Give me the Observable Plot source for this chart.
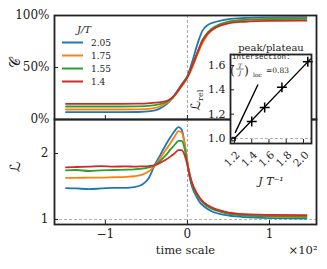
<!DOCTYPE html>
<html><head><meta charset="utf-8">
<script src="https://cdn.jsdelivr.net/npm/d3@7"></script>
<script src="https://cdn.jsdelivr.net/npm/@observablehq/plot@0.6"></script>
<style>
body{margin:0;background:#fff}
#chart{position:relative;width:327px;height:269px;font-family:"DejaVu Serif",serif}
#chart svg{position:absolute;left:0;top:0}
</style>
</head><body><div id="chart"></div>
<script>
// ---- data ----
const series = ["2.05", "1.75", "1.55", "1.4"];
const colors = ["#1f77b4", "#ff7f0e", "#2ca02c", "#d62728"];
const legendTitle = "J/T";

// top panel: fraction (%) vs time scale (x10^2)
const tTop = [-1.48, -1.2, -0.9, -0.6, -0.45, -0.35, -0.25, -0.18, -0.12, -0.06, 0, 0.06, 0.12, 0.18, 0.25, 0.35, 0.5, 0.7, 1.0, 1.45];
const topBlue   = [7, 7, 7, 7.2, 8, 10, 15, 21, 28, 35, 42, 56, 72, 85, 91, 94, 96.5, 97.6, 98.2, 98.4];
const topOrange = [9.6, 9.6, 9.6, 9.8, 10.5, 12, 16, 20.5, 26.5, 33, 40, 50, 62, 73, 82, 89, 94, 96, 97, 97.3];
const topGreen  = [12.5, 12.5, 12.5, 12.7, 13.3, 14.5, 17, 21, 27, 34, 41, 52, 64, 76, 84, 90, 94, 95.7, 96.5, 96.8];
const topRed    = [15, 15, 15, 15.2, 15.8, 16.5, 18, 21.5, 27, 34, 41, 52, 64, 75, 83, 88.5, 92.5, 94, 94.8, 95];

// bottom panel: L vs time scale
const tBot = [-1.48, -1.35, -1.2, -1.05, -0.9, -0.75, -0.65, -0.55, -0.47, -0.4, -0.33, -0.26, -0.2, -0.15, -0.11, -0.07, -0.03, 0, 0.03, 0.06, 0.1, 0.15, 0.2, 0.3, 0.45, 0.7, 1.0, 1.45];
const botBlue   = [1.475, 1.47, 1.46, 1.47, 1.48, 1.48, 1.49, 1.53, 1.63, 1.82, 1.98, 2.14, 2.26, 2.35, 2.40, 2.36, 2.12, 1.85, 1.62, 1.48, 1.37, 1.26, 1.2, 1.12, 1.07, 1.035, 1.02, 1.015];
const botOrange = [1.63, 1.63, 1.635, 1.635, 1.64, 1.645, 1.655, 1.68, 1.73, 1.81, 1.93, 2.06, 2.17, 2.27, 2.34, 2.32, 2.12, 1.88, 1.68, 1.54, 1.43, 1.32, 1.25, 1.17, 1.11, 1.065, 1.045, 1.035];
const botGreen  = [1.745, 1.75, 1.735, 1.745, 1.75, 1.755, 1.76, 1.77, 1.79, 1.82, 1.89, 1.98, 2.07, 2.14, 2.19, 2.19, 2.05, 1.85, 1.66, 1.52, 1.41, 1.31, 1.24, 1.16, 1.1, 1.06, 1.05, 1.045];
const botRed    = [1.79, 1.795, 1.80, 1.81, 1.80, 1.805, 1.80, 1.805, 1.81, 1.82, 1.86, 1.91, 1.96, 2.01, 2.05, 2.05, 1.96, 1.82, 1.66, 1.54, 1.43, 1.33, 1.26, 1.18, 1.12, 1.08, 1.07, 1.065];

const xTicks = [-1, 0, 1];
const topYTicks = [0, 50, 100];
const botYTicks = [1, 2];

// inset: peak/plateau ratio vs J/T
const insetX = [1.4, 1.55, 1.75, 2.05];
const insetY = [1.14, 1.255, 1.42, 1.63];
const fitX = [1.2, 2.08], fitY = [1.0, 1.652];
const steepX = [1.21, 1.47], steepY = [1.05, 1.44];
const interX = [1.19], interY = [0.995];
const inXTicks = [1.2, 1.4, 1.6, 1.8, 2.0];
const inYTicks = [1.0, 1.2, 1.4, 1.6];
const interValue = "0.83";

// ---- build ----
const FONT = "DejaVu Serif, serif";
const common = {width: 327, height: 269, style: {background: "transparent", fontFamily: FONT, fontSize: "12px", color: "#222", overflow: "visible"}};
const colorScale = {domain: series, range: colors};
function rows(t, arrs) { return arrs.flatMap((a, i) => a.map((v, j) => ({t: t[j], v, s: series[i]}))); }
const minus = d => d < 0 ? "\u2212" + Math.abs(d) : String(d);
const xDomain = [-1.62, 1.573];

const topPlot = Plot.plot({...common,
  marginLeft: 54, marginRight: 11, marginTop: 15, marginBottom: 150,
  x: {domain: xDomain}, y: {domain: [0, 100]}, color: colorScale,
  marks: [
    Plot.ruleX([0], {stroke: "#999", strokeWidth: 0.9, strokeDasharray: "3,2"}),
    Plot.line(rows(tTop, [topBlue, topOrange, topGreen, topRed]), {x: "t", y: "v", stroke: "s", z: "s", strokeWidth: 1.8, curve: "monotone-x"}),
    Plot.axisY(topYTicks, {tickSize: -4, tickPadding: 9, tickFormat: d => d + "%", label: null, fontSize: 12}),
    Plot.axisX(xTicks, {tickSize: -4, tickFormat: () => "", label: null}),
    Plot.text(["\ud835\udc9e"], {frameAnchor: "left", dx: -39, rotate: -90, fontSize: 14, fontFamily: "DejaVu Sans, sans-serif"}),
    Plot.frame({stroke: "#222", strokeWidth: 1.8})
  ]
});

const botPlot = Plot.plot({...common,
  marginLeft: 54, marginRight: 11, marginTop: 119, marginBottom: 45,
  x: {domain: xDomain}, y: {domain: [0.924, 2.515]}, color: colorScale,
  marks: [
    Plot.ruleX([0], {stroke: "#999", strokeWidth: 0.9, strokeDasharray: "3,2"}),
    Plot.ruleY([1], {stroke: "#aaa", strokeWidth: 0.9, strokeDasharray: "3,2"}),
    Plot.line(rows(tBot, [botBlue, botOrange, botGreen, botRed]), {x: "t", y: "v", stroke: "s", z: "s", strokeWidth: 1.8, curve: "monotone-x"}),
    Plot.axisY(botYTicks, {tickSize: -4, tickPadding: 10, tickFormat: d => String(d), label: null, fontSize: 12}),
    Plot.axisX(xTicks, {tickSize: -4, tickPadding: 9, tickFormat: minus, label: null, fontSize: 12}),
    Plot.text(["\u2112"], {frameAnchor: "left", dx: -39, rotate: -90, fontSize: 14, fontFamily: "DejaVu Sans, sans-serif"}),
    Plot.text(["time scale"], {frameAnchor: "bottom", dy: 29, fontSize: 11.5}),
    Plot.text(["\u00d710\u00b2"], {frameAnchor: "bottom-right", dy: 29, dx: 1, textAnchor: "end", fontSize: 11.5}),
    Plot.frame({stroke: "#222", strokeWidth: 1.8})
  ]
});

const insetPlot = Plot.plot({...common,
  marginLeft: 230, marginRight: 16, marginTop: 54, marginBottom: 126,
  x: {domain: [1.154, 2.093]}, y: {domain: [0.959, 1.69]},
  marks: [
    Plot.frame({fill: "white", stroke: "none"}),
    Plot.ruleY([1], {stroke: "#aaa", strokeWidth: 0.9, strokeDasharray: "3,2"}),
    Plot.line(fitX.map((x, i) => ({x, y: fitY[i]})), {x: "x", y: "y", stroke: "black", strokeWidth: 1.4}),
    Plot.line(steepX.map((x, i) => ({x, y: steepY[i]})), {x: "x", y: "y", stroke: "black", strokeWidth: 1.4}),
    Plot.dot(insetX.map((x, i) => ({x, y: insetY[i]})), {x: "x", y: "y", symbol: "plus", r: 3.3, stroke: "black", strokeWidth: 1.5}),
    Plot.dot(interX.map((x, i) => ({x, y: interY[i]})), {x: "x", y: "y", symbol: "square", r: 2, stroke: "black", strokeWidth: 1}),
    Plot.axisY(inYTicks, {tickSize: -4, tickPadding: 9, tickFormat: d => d.toFixed(1), label: null, fontSize: 11}),
    Plot.axisX(inXTicks, {tickSize: -4, tickFormat: () => "", label: null}),
    Plot.text(inXTicks, {x: d => d, frameAnchor: "bottom", dy: 18, rotate: -45, text: d => d.toFixed(1), fontSize: 10.5}),
    Plot.text(["peak/plateau"], {frameAnchor: "top", dy: -11, fontSize: 10}),
    Plot.text(["J T\u207b\u00b9"], {frameAnchor: "bottom", dy: 41, fontStyle: "italic", fontSize: 11}),
    Plot.frame({stroke: "#222", strokeWidth: 1.8})
  ]
});

const chart = document.getElementById("chart");
chart.append(topPlot, botPlot, insetPlot);

// overlay: legend and inset annotations
const legY = [42.5, 55.5, 68.5, 81.5];
let ov = `<svg xmlns="http://www.w3.org/2000/svg" width="327" height="269" style="font-family:${FONT}">`;
ov += `<text x="84" y="32.5" text-anchor="middle" font-size="10" font-style="italic" fill="#222">${legendTitle}</text>`;
series.forEach((s, i) => {
  ov += `<line x1="62" x2="83" y1="${legY[i]}" y2="${legY[i]}" stroke="${colors[i]}" stroke-width="2"/>`;
  ov += `<text x="91" y="${legY[i] + 3.2}" font-size="9" fill="#222">${s}</text>`;
});
ov += `<text transform="translate(200,100) rotate(-90)" text-anchor="middle" font-size="13" fill="#222"><tspan font-family="DejaVu Sans, sans-serif">\u2112</tspan><tspan font-size="8" dy="3">rel</tspan></text>`;
ov += `<text x="232" y="59" font-family="Liberation Mono, monospace" font-size="7.5" fill="#222">intersection:</text>`;
ov += `<text x="230" y="75" font-size="12.5" fill="#222">(</text>`;
ov += `<text x="240" y="67.5" text-anchor="middle" font-size="6" font-style="italic" fill="#222">T</text>`;
ov += `<line x1="236.5" x2="243.5" y1="69" y2="69" stroke="#222" stroke-width="0.6"/>`;
ov += `<text x="240" y="74.5" text-anchor="middle" font-size="6" font-style="italic" fill="#222">J</text>`;
ov += `<text x="244" y="75" font-size="12.5" fill="#222">)</text>`;
ov += `<text x="253" y="77" font-size="6" fill="#222">loc</text>`;
ov += `<text x="266" y="73" font-size="7.5" fill="#222">=${interValue}</text>`;
ov += `</svg>`;
chart.insertAdjacentHTML("beforeend", ov);
</script>
</body></html>
